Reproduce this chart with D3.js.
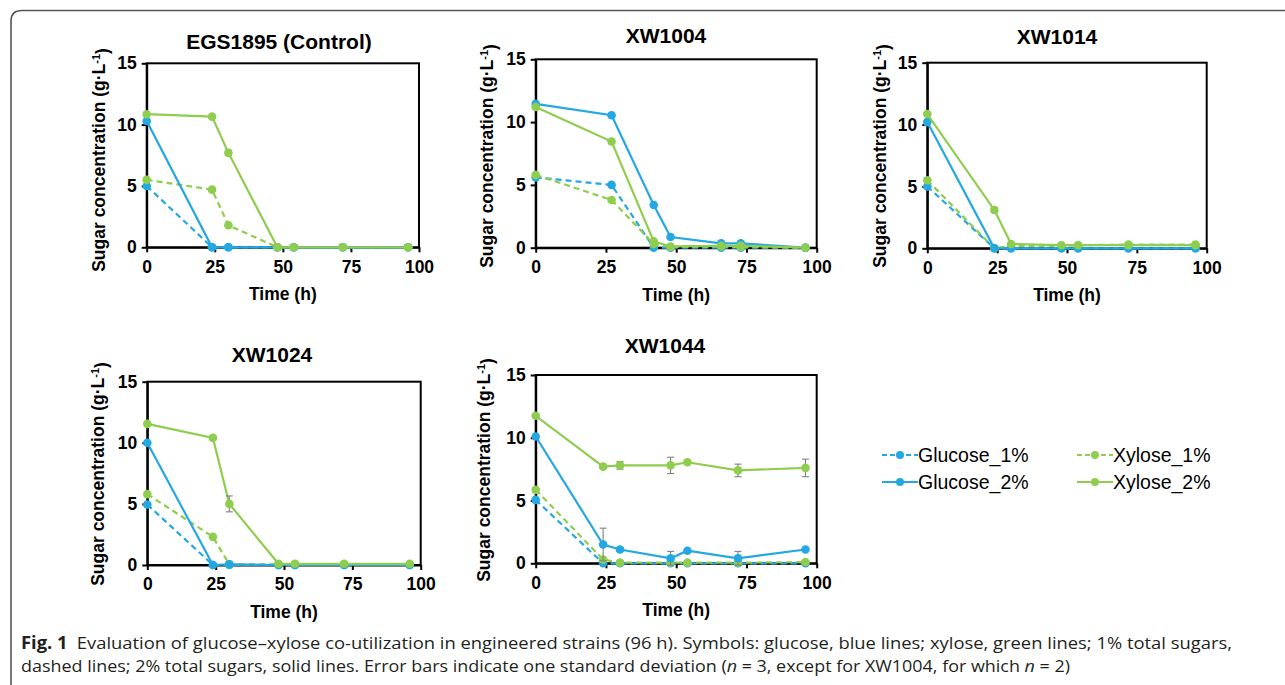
<!DOCTYPE html>
<html>
<head>
<meta charset="utf-8">
<script src="https://cdn.jsdelivr.net/npm/d3@7/dist/d3.min.js"></script>
<style>
  html, body { margin: 0; padding: 0; background: #fff; }
  svg { display: block; }
</style>
</head>
<body>
<svg id="chart" width="1285" height="685"></svg>
<script>
// ---------------- DATA ----------------
const panelTitles = ["EGS1895 (Control)", "XW1004", "XW1014", "XW1024", "XW1044"];
const timeStd = [0, 24, 30, 48, 54, 72, 96];
const timeXW1004 = [0, 27, 42, 48, 66, 73, 96];
const panelTimes = [timeStd, timeXW1004, timeStd, timeStd, timeStd];

const seriesNames = ["Glucose_1%", "Xylose_1%", "Glucose_2%", "Xylose_2%"];

// values per panel (g/L)
const glucose1 = [
  [5.0, 0, 0, 0, 0, 0, 0],
  [5.6, 5.0, 0, 0, 0, 0, 0],
  [5.0, 0, 0, 0, 0, 0, 0],
  [4.95, 0, 0, 0, 0, 0, 0],
  [5.05, 0, 0, 0, 0, 0, 0]
];
const xylose1 = [
  [5.5, 4.7, 1.8, 0, 0, 0, 0],
  [5.8, 3.8, 0.3, 0.05, 0.1, 0.05, 0],
  [5.5, 0, 0.2, 0.2, 0.25, 0.3, 0.3],
  [5.8, 2.3, 0.05, 0.05, 0.05, 0.05, 0.05],
  [5.85, 0.3, 0.05, 0.05, 0.05, 0.05, 0.1]
];
const glucose2 = [
  [10.3, 0, 0, 0, 0, 0, 0],
  [11.45, 10.55, 3.4, 0.85, 0.35, 0.35, 0],
  [10.2, 0, 0, 0, 0, 0, 0],
  [10.0, 0, 0.05, 0, 0, 0, 0],
  [10.1, 1.5, 1.1, 0.4, 1.0, 0.4, 1.1]
];
const xylose2 = [
  [10.85, 10.65, 7.7, 0, 0, 0, 0],
  [11.2, 8.45, 0.5, 0.1, 0.15, 0.15, 0],
  [10.85, 3.1, 0.35, 0.25, 0.25, 0.25, 0.25],
  [11.55, 10.4, 5.0, 0.1, 0.1, 0.1, 0.1],
  [11.75, 7.7, 7.8, 7.8, 8.05, 7.4, 7.6]
];
// standard deviations (only visible ones)
const glucose2Err = [
  [0, 0, 0, 0, 0, 0, 0],
  [0, 0, 0, 0, 0, 0, 0],
  [0, 0, 0, 0, 0, 0, 0],
  [0, 0, 0, 0, 0, 0, 0],
  [0, 1.3, 0.15, 0.55, 0.1, 0.55, 0.1]
];
const xylose2Err = [
  [0, 0.1, 0.2, 0, 0, 0, 0],
  [0, 0, 0, 0, 0, 0, 0],
  [0, 0.2, 0, 0, 0, 0, 0],
  [0, 0.15, 0.65, 0, 0, 0, 0],
  [0.1, 0.1, 0.3, 0.65, 0.15, 0.5, 0.7]
];
const xTicks = [0, 25, 50, 75, 100];
const yTicks = [0, 5, 10, 15];

// ---------------- STYLE / LAYOUT ----------------
const BLUE = "#23a8e2";
const GREEN = "#8fcd4f";
const seriesStyle = [
  { color: BLUE, dash: "6,4" },
  { color: GREEN, dash: "6,4" },
  { color: BLUE, dash: null },
  { color: GREEN, dash: null }
];
const seriesData = [glucose1, xylose1, glucose2, xylose2];
const seriesErr = [null, null, glucose2Err, xylose2Err];

const layout = [
  { x0: 146.7, x1: 419, y0: 63.3, y1: 247.3, tx: 279, ty: 49, lx: 105, ly: 160 },
  { x0: 535.7, x1: 816.7, y0: 59.3, y1: 247.7, tx: 666, ty: 43, lx: 493, ly: 156 },
  { x0: 927.3, x1: 1206.7, y0: 62.7, y1: 248.3, tx: 1057, ty: 44, lx: 886, ly: 156 },
  { x0: 147.3, x1: 420.7, y0: 381.7, y1: 565, tx: 272, ty: 362, lx: 104, ly: 474 },
  { x0: 535.7, x1: 816.7, y0: 375, y1: 563.3, tx: 665, ty: 353, lx: 490, ly: 470 }
];

const FONT = "'Liberation Sans', Arial, Helvetica, sans-serif";
const svg = d3.select("#chart");
svg.append("rect").attr("width", 1285).attr("height", 685).attr("fill", "#fff");

// outer frame
svg.append("path")
  .attr("d", "M11,685 L11,21 Q11,10.5 22,10.5 L1285,10.5")
  .attr("fill", "none").attr("stroke", "#555").attr("stroke-width", 1.6);

panelTitles.forEach((title, p) => {
  const L = layout[p];
  const x = d3.scaleLinear().domain([0, 100]).range([L.x0, L.x1]);
  const y = d3.scaleLinear().domain([0, 15]).range([L.y1, L.y0]);
  const g = svg.append("g");

  // frame box
  g.append("rect")
    .attr("x", L.x0).attr("y", L.y0)
    .attr("width", L.x1 - L.x0).attr("height", L.y1 - L.y0)
    .attr("fill", "none").attr("stroke", "#000").attr("stroke-width", 2);

  // axes
  const ax = g.append("g").attr("transform", `translate(0,${L.y1})`)
    .call(d3.axisBottom(x).tickValues(xTicks).tickSize(5).tickSizeOuter(0).tickPadding(8));
  const ay = g.append("g").attr("transform", `translate(${L.x0},0)`)
    .call(d3.axisLeft(y).tickValues(yTicks).tickSize(5).tickSizeOuter(0).tickPadding(5));
  [ax, ay].forEach(a => {
    a.select(".domain").attr("stroke", "#000").attr("stroke-width", 2);
    a.selectAll(".tick line").attr("stroke", "#000").attr("stroke-width", 2);
    a.selectAll(".tick text").attr("fill", "#000")
      .style("font-family", FONT).style("font-weight", "bold").style("font-size", "17.5px");
  });
  ax.selectAll(".tick text").attr("dy", "0.71em");

  // title
  g.append("text").attr("x", L.tx).attr("y", L.ty).attr("text-anchor", "middle")
    .style("font-family", FONT).style("font-weight", "bold").style("font-size", "21px")
    .text(title);

  // x label
  g.append("text").attr("x", (L.x0 + L.x1) / 2).attr("y", L.y1 + 53).attr("text-anchor", "middle")
    .style("font-family", FONT).style("font-weight", "bold").style("font-size", "17.5px")
    .text("Time (h)");

  // y label
  const yl = g.append("text")
    .attr("transform", `translate(${L.lx},${L.ly}) rotate(-90)`)
    .attr("text-anchor", "middle")
    .style("font-family", FONT).style("font-weight", "bold").style("font-size", "17.5px");
  yl.append("tspan").text("Sugar concentration (g·L");
  yl.append("tspan").attr("dy", "-0.45em").style("font-size", "11px").text("-1");
  yl.append("tspan").attr("dy", "0.45em").text(")");

  // series
  const times = panelTimes[p];
  const line = d3.line().x(d => x(d[0])).y(d => y(d[1]));
  seriesData.forEach((sd, s) => {
    const pts = times.map((t, i) => [t, sd[p][i]]);
    const st = seriesStyle[s];
    g.append("path").datum(pts)
      .attr("d", line).attr("fill", "none")
      .attr("stroke", st.color).attr("stroke-width", 2.2)
      .attr("stroke-dasharray", st.dash);
    const err = seriesErr[s];
    if (err) {
      const eb = times.map((t, i) => [t, sd[p][i], err[p][i]]).filter(d => d[2] > 0);
      const eg = g.append("g").attr("stroke", "#7f7f7f").attr("stroke-width", 1.1);
      eb.forEach(d => {
        eg.append("line").attr("x1", x(d[0])).attr("x2", x(d[0]))
          .attr("y1", y(d[1] - d[2])).attr("y2", y(d[1] + d[2]));
        [d[1] - d[2], d[1] + d[2]].forEach(v => {
          eg.append("line").attr("x1", x(d[0]) - 3.5).attr("x2", x(d[0]) + 3.5)
            .attr("y1", y(v)).attr("y2", y(v));
        });
      });
    }
    g.selectAll(null).data(pts).enter().append("circle")
      .attr("cx", d => x(d[0])).attr("cy", d => y(d[1])).attr("r", 4.3)
      .attr("fill", st.color);
  });
});

// legend
const legendPos = [
  { x: 882, y: 455 }, { x: 1077, y: 455 },
  { x: 882, y: 482 }, { x: 1077, y: 482 }
];
seriesNames.forEach((name, s) => {
  const P = legendPos[s];
  const st = seriesStyle[s];
  const lg = svg.append("g");
  lg.append("line").attr("x1", P.x).attr("x2", P.x + 36).attr("y1", P.y).attr("y2", P.y)
    .attr("stroke", st.color).attr("stroke-width", 2.2).attr("stroke-dasharray", st.dash ? "5,3" : null);
  lg.append("circle").attr("cx", P.x + 18).attr("cy", P.y).attr("r", 4).attr("fill", st.color);
  lg.append("text").attr("x", P.x + 36).attr("y", P.y).attr("dy", "0.36em")
    .style("font-family", FONT).style("font-size", "19.5px").attr("fill", "#000")
    .text(name);
});

// caption
const CFONT = "'Open Sans', 'Noto Sans', sans-serif";
const c1 = svg.append("text").attr("x", 21).attr("y", 649)
  .attr("textLength", 1211).attr("lengthAdjust", "spacingAndGlyphs")
  .style("font-family", CFONT).style("font-size", "17px").attr("fill", "#231f20");
c1.append("tspan").style("font-weight", "bold").text("Fig. 1");
c1.append("tspan").attr("xml:space", "preserve").text("\u2002Evaluation of glucose\u2013xylose co-utilization in engineered strains (96 h). Symbols: glucose, blue lines; xylose, green lines; 1% total sugars,");
const c2 = svg.append("text").attr("x", 21).attr("y", 672)
  .attr("textLength", 1049).attr("lengthAdjust", "spacingAndGlyphs")
  .style("font-family", CFONT).style("font-size", "17px").attr("fill", "#231f20");
c2.append("tspan").text("dashed lines; 2% total sugars, solid lines. Error bars indicate one standard deviation (");
c2.append("tspan").style("font-style", "italic").text("n");
c2.append("tspan").text(" = 3, except for XW1004, for which ");
c2.append("tspan").style("font-style", "italic").text("n");
c2.append("tspan").text(" = 2)");
</script>
</body>
</html>
